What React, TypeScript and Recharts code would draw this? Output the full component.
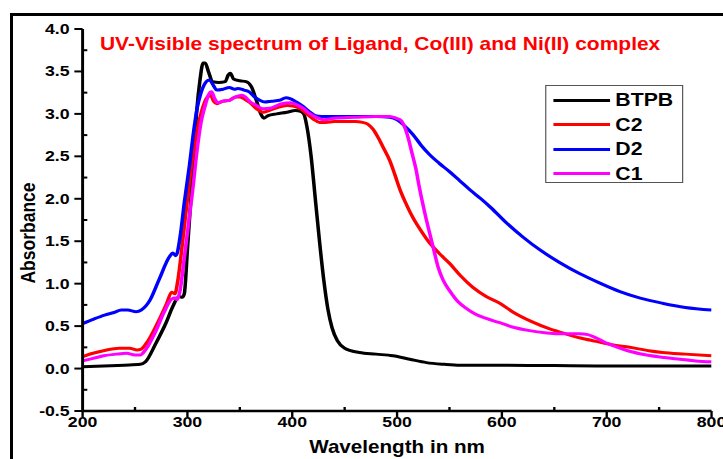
import React from "react";
import { LineChart, Line, XAxis, YAxis } from "recharts";

// wavelengths (nm) and absorbance, one pair per sample
const WL_BTPB = [
  200, 220, 240, 255, 260, 270, 280, 286, 292, 295, 297, 300, 303, 306, 309, 312, 315, 317, 320, 324, 330,
  336, 339, 341, 344, 350, 356, 361, 366, 370, 373, 377, 385, 395, 403, 408, 411, 414, 418, 422, 426, 430,
  434, 438, 443, 450, 464, 480, 496, 512, 528, 545, 560, 600, 700, 800,
];
const ABS_BTPB = [
  0.02, 0.03, 0.04, 0.05, 0.08, 0.3, 0.55, 0.73, 0.85, 0.84, 0.88, 1.4, 1.95, 2.5, 3.05, 3.4, 3.6, 3.6, 3.5,
  3.38, 3.37, 3.38, 3.46, 3.48, 3.41, 3.39, 3.38, 3.32, 3.15, 3.0, 2.95, 2.98, 3.0, 3.02, 3.04, 3.03, 3.0,
  2.85, 2.5, 2.0, 1.5, 1.05, 0.7, 0.48, 0.33, 0.24, 0.19, 0.17, 0.15, 0.11, 0.07, 0.05, 0.04, 0.04, 0.03,
  0.03,
];

const WL_C2 = [
  200, 210, 220, 235, 245, 252, 256, 262, 270, 280, 285, 288, 291, 295, 300, 305, 310, 314, 318, 322, 325,
  328, 334, 340, 346, 350, 355, 360, 366, 372, 378, 385, 395, 402, 408, 414, 420, 426, 432, 440, 450, 460,
  467, 472, 477, 482, 487, 493, 498, 503, 509, 515, 523, 531, 540, 550, 560, 572, 585, 598, 610, 629, 645,
  658, 675, 690, 705, 722, 740, 753, 775, 800,
];
const ABS_C2 = [
  0.14, 0.18, 0.21, 0.24, 0.24, 0.22, 0.23, 0.32, 0.5, 0.76, 0.9, 0.88, 1.05, 1.45, 2.0, 2.5, 2.85, 3.05,
  3.18, 3.22, 3.15, 3.12, 3.15, 3.16, 3.2, 3.2, 3.17, 3.13, 3.06, 3.02, 3.04, 3.07, 3.1, 3.09, 3.06, 3.0,
  2.94, 2.9, 2.9, 2.91, 2.91, 2.91, 2.9, 2.88, 2.82, 2.72, 2.6, 2.45, 2.28, 2.1, 1.93, 1.78, 1.62, 1.48,
  1.36, 1.24, 1.1, 0.96, 0.85, 0.77, 0.67, 0.55, 0.47, 0.42, 0.36, 0.32, 0.28, 0.25, 0.21, 0.19, 0.17,
  0.15,
];

const WL_D2 = [
  200, 210, 221, 230, 237, 243, 251, 256, 264, 273, 283, 286, 289, 293, 297, 302, 306, 309, 313, 318, 321,
  325, 328, 334, 340, 345, 348, 354, 359, 364, 369, 374, 380, 388, 394, 398, 404, 410, 416, 422, 428, 440,
  460, 480, 493, 500, 507, 515, 523, 531, 540, 550, 560, 570, 580, 590, 604, 620, 636, 655, 674, 693, 712,
  732, 753, 775, 800,
];
const ABS_D2 = [
  0.53, 0.58, 0.63, 0.66, 0.69, 0.69, 0.67, 0.69, 0.8, 1.05, 1.32, 1.36, 1.33, 1.55, 1.95, 2.4, 2.8, 3.05,
  3.25, 3.38, 3.4, 3.33, 3.28, 3.29, 3.31, 3.29, 3.3, 3.28, 3.26, 3.2, 3.16, 3.14, 3.15, 3.16, 3.19, 3.18,
  3.14, 3.09, 3.03, 2.98, 2.97, 2.97, 2.97, 2.97, 2.96, 2.93, 2.86, 2.76, 2.63, 2.52, 2.42, 2.32, 2.21,
  2.1, 2.0, 1.89, 1.72, 1.55, 1.4, 1.25, 1.12, 1.01, 0.91, 0.83, 0.77, 0.72, 0.69,
];

const WL_C1 = [
  200, 210, 220, 232, 242, 250, 255, 260, 269, 278, 285, 288, 290, 293, 297, 301, 305, 309, 313, 317, 320,
  323, 326, 329, 334, 340, 346, 352, 356, 360, 366, 372, 380, 390, 398, 404, 410, 416, 423, 430, 440, 460,
  480, 493, 499, 504, 508, 511, 514, 518, 521, 524, 528, 531, 535, 539, 544, 550, 558, 566, 575, 585, 598,
  610, 625, 643, 660, 674, 682, 690, 698, 706, 720, 738, 755, 770, 785, 800,
];
const ABS_C1 = [
  0.09, 0.12, 0.15, 0.17, 0.18, 0.16, 0.16, 0.22, 0.42, 0.67, 0.82, 0.83, 0.81, 0.92, 1.3, 1.7, 2.1, 2.55,
  2.9, 3.1, 3.22, 3.26, 3.18, 3.13, 3.15, 3.16, 3.2, 3.22, 3.19, 3.14, 3.1, 3.06, 3.07, 3.12, 3.13, 3.11,
  3.07, 3.01, 2.96, 2.93, 2.95, 2.96, 2.97, 2.97, 2.95, 2.92, 2.82, 2.7, 2.55, 2.35, 2.15, 1.97, 1.75, 1.6,
  1.4, 1.2, 1.04, 0.92, 0.79, 0.71, 0.64, 0.59, 0.54, 0.49, 0.45, 0.42, 0.41, 0.41, 0.4, 0.36, 0.31, 0.27,
  0.21, 0.16, 0.13, 0.11, 0.09, 0.08,
];

const X_TICKS = [200, 250, 300, 350, 400, 450, 500, 550, 600, 650, 700, 750, 800];
const Y_TICKS = [-0.5, -0.25, 0, 0.25, 0.5, 0.75, 1, 1.25, 1.5, 1.75, 2, 2.25, 2.5, 2.75, 3, 3.25, 3.5, 3.75, 4];

const TITLE = "UV-Visible spectrum of Ligand, Co(III) and Ni(II) complex";

const toPoints = (wl: number[], abs: number[]) => wl.map((w, i) => ({ wl: w, a: abs[i] }));

const series = [
  { name: "BTPB", color: "#000000", data: toPoints(WL_BTPB, ABS_BTPB) },
  { name: "C2", color: "#ff0000", data: toPoints(WL_C2, ABS_C2) },
  { name: "D2", color: "#0000ff", data: toPoints(WL_D2, ABS_D2) },
  { name: "C1", color: "#ff00ff", data: toPoints(WL_C1, ABS_C1) },
];

// the original figure is stretched sideways, so the chart is drawn narrow and widened
const STRETCH = 1.18;
const FONT = "'Liberation Sans', Arial, sans-serif";

const isMajorX = (v: number) => v % 100 === 0;
const isMajorY = (v: number) => Math.abs(v * 2 - Math.round(v * 2)) < 1e-6;

function BottomTick({ x, y, payload }: any) {
  const major = isMajorX(payload.value);
  return (
    <g>
      <line x1={x} x2={x} y1={y} y2={major ? y + 6 : y - 4} stroke="#000" strokeWidth={2} />
      {major && (
        <text x={x} y={y + 16} textAnchor="middle" fontSize={15} fontWeight="bold" fontFamily={FONT} fill="#000">
          {payload.value}
        </text>
      )}
    </g>
  );
}

function TopTick({ x, y, payload }: any) {
  const major = isMajorX(payload.value);
  return <line x1={x} x2={x} y1={y} y2={y + (major ? 5 : 3)} stroke="#000" strokeWidth={2} />;
}

function LeftTick({ x, y, payload }: any) {
  const major = isMajorY(payload.value);
  return (
    <g>
      <line x1={major ? x - 7 : x} x2={major ? x : x + 4} y1={y} y2={y} stroke="#000" strokeWidth={2} />
      {major && (
        <text x={x - 11} y={y + 5} textAnchor="end" fontSize={15} fontWeight="bold" fontFamily={FONT} fill="#000">
          {payload.value.toFixed(1)}
        </text>
      )}
    </g>
  );
}

function RightTick({ x, y, payload }: any) {
  const major = isMajorY(payload.value);
  return <line x1={x - (major ? 6 : 4)} x2={x} y1={y} y2={y} stroke="#000" strokeWidth={2} />;
}

function YTitle({ viewBox }: any) {
  const cx = viewBox.x + 24;
  const cy = viewBox.y + viewBox.height / 2 + 13;
  return (
    <text
      x={cx}
      y={cy}
      transform={`rotate(-90, ${cx}, ${cy})`}
      textAnchor="middle"
      dominantBaseline="central"
      fontSize={17.5}
      fontWeight="bold"
      fontFamily={FONT}
      fill="#000"
    >
      Absorbance
    </text>
  );
}

const axisLine = { stroke: "#000", strokeWidth: 2.5 };

export default function App() {
  return (
    <div
      style={{
        position: "absolute",
        left: 0,
        top: 0,
        width: 723,
        height: 459,
        overflow: "hidden",
        background: "#fff",
      }}
    >
      <div
        style={{
          position: "absolute",
          left: 10,
          top: 13,
          width: 800,
          height: 500,
          border: "3px solid #000",
        }}
      />
      <div
        style={{
          position: "absolute",
          left: 0,
          top: 0,
          width: 613,
          height: 459,
          transform: `scaleX(${STRETCH})`,
          transformOrigin: "0 0",
        }}
      >
        <LineChart width={613} height={459} margin={{ top: 29, right: 10, bottom: 4, left: 0 }}>
          <XAxis
            dataKey="wl"
            type="number"
            domain={[200, 800]}
            ticks={X_TICKS}
            interval={0}
            allowDataOverflow
            height={44}
            axisLine={axisLine}
            tickLine={false}
            tickSize={0}
            tickMargin={0}
            tick={BottomTick}
            label={{
              value: "Wavelength in nm",
              position: "insideBottom",
              offset: 2,
              fontSize: 17.5,
              fontWeight: "bold",
              fontFamily: FONT,
              fill: "#000",
            }}
          />
          <XAxis
            xAxisId="top"
            orientation="top"
            dataKey="wl"
            type="number"
            domain={[200, 800]}
            ticks={X_TICKS}
            interval={0}
            allowDataOverflow
            height={0}
            axisLine={axisLine}
            tickLine={false}
            tickSize={0}
            tickMargin={0}
            tick={TopTick}
          />
          <YAxis
            type="number"
            domain={[-0.5, 4]}
            ticks={Y_TICKS}
            interval={0}
            allowDataOverflow
            width={70}
            axisLine={axisLine}
            tickLine={false}
            tickSize={0}
            tickMargin={0}
            tick={LeftTick}
            label={{ content: YTitle }}
          />
          <YAxis
            yAxisId="right"
            orientation="right"
            type="number"
            domain={[-0.5, 4]}
            ticks={Y_TICKS}
            interval={0}
            allowDataOverflow
            width={0}
            axisLine={axisLine}
            tickLine={false}
            tickSize={0}
            tickMargin={0}
            tick={RightTick}
          />
          {series.map((s) => (
            <Line
              key={s.name}
              data={s.data}
              dataKey="a"
              name={s.name}
              type="monotone"
              stroke={s.color}
              strokeWidth={3}
              dot={false}
              isAnimationActive={false}
            />
          ))}
        </LineChart>

        <div
          style={{
            position: "absolute",
            left: 84.7,
            top: 34,
            fontFamily: FONT,
            fontWeight: "bold",
            fontSize: 17.8,
            color: "#ff0000",
            whiteSpace: "nowrap",
            lineHeight: "20px",
          }}
        >
          {TITLE}
        </div>

        <div
          style={{
            position: "absolute",
            left: 462,
            top: 85,
            width: 117,
            height: 98,
            boxSizing: "border-box",
            border: "1px solid #555",
            background: "#fff",
            paddingTop: 2,
          }}
        >
          {series.map((s) => (
            <div key={s.name} style={{ display: "flex", alignItems: "center", height: 24.5 }}>
              <div style={{ marginLeft: 6, width: 47.5, height: 3, background: s.color }} />
              <span
                style={{
                  marginLeft: 5,
                  fontFamily: FONT,
                  fontWeight: "bold",
                  fontSize: 18,
                  color: "#000",
                  lineHeight: "20px",
                }}
              >
                {s.name}
              </span>
            </div>
          ))}
        </div>
      </div>
    </div>
  );
}
